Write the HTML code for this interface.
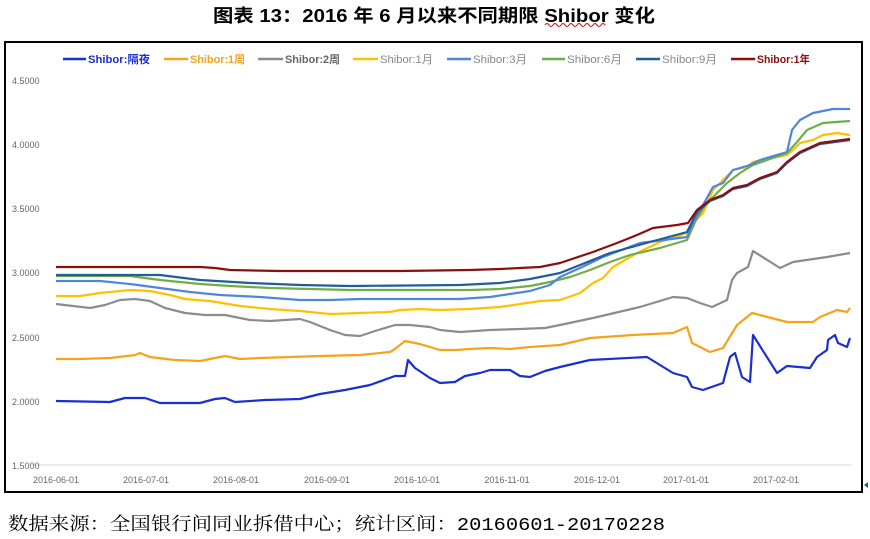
<!DOCTYPE html>
<html><head><meta charset="utf-8"><style>
body{margin:0;width:870px;height:539px;background:#fff;overflow:hidden}
</style></head><body>
<svg width="870" height="539" style="position:absolute;left:0;top:0" font-family="Liberation Sans,Noto Sans CJK SC,sans-serif">
<text x="213" y="22" font-size="18" font-weight="bold" textLength="442" lengthAdjust="spacingAndGlyphs">图表 13：2016 年 6 月以来不同期限 Shibor 变化</text>
<path d="M545,25 q2,-3 4,0 t4,0 t4,0 t4,0 t4,0 t4,0 t4,0 t4,0 t4,0 t4,0 t4,0 t4,0 t4,0 t4,0 t4,0" fill="none" stroke="#d00" stroke-width="1"/>
<rect x="5" y="42" width="857" height="450" fill="none" stroke="#000" stroke-width="2"/>
<line x1="30" y1="465" x2="852" y2="465" stroke="#d9d9d9"/>
<g font-size="9" fill="#666">
<text x="12" y="84">4.5000</text><text x="12" y="148">4.0000</text><text x="12" y="212">3.5000</text><text x="12" y="276">3.0000</text><text x="12" y="341">2.5000</text><text x="12" y="405">2.0000</text><text x="12" y="469">1.5000</text>
</g>
<g font-size="9" fill="#666" text-anchor="middle">
<text x="56" y="483">2016-06-01</text><text x="146" y="483">2016-07-01</text><text x="236" y="483">2016-08-01</text><text x="327" y="483">2016-09-01</text><text x="417" y="483">2016-10-01</text><text x="507" y="483">2016-11-01</text><text x="597" y="483">2016-12-01</text><text x="686" y="483">2017-01-01</text><text x="776" y="483">2017-02-01</text>
</g>
<g font-size="11" font-weight="bold">
<line x1="63" y1="59" x2="86" y2="59" stroke="#1a2fd0" stroke-width="2.5"/><text x="88" y="63" fill="#1a2fd0" textLength="62" lengthAdjust="spacingAndGlyphs">Shibor:隔夜</text>
<line x1="164" y1="59" x2="188" y2="59" stroke="#f7a21b" stroke-width="2.5"/><text x="190" y="63" fill="#f7a21b" textLength="55" lengthAdjust="spacingAndGlyphs">Shibor:1周</text>
<line x1="258" y1="59" x2="283" y2="59" stroke="#8c8c8c" stroke-width="2.5"/><text x="285" y="63" fill="#666" textLength="55" lengthAdjust="spacingAndGlyphs">Shibor:2周</text>
<line x1="353" y1="59" x2="378" y2="59" stroke="#ffc000" stroke-width="2.5"/><text x="380" y="63" fill="#888" font-weight="normal" textLength="53" lengthAdjust="spacingAndGlyphs">Shibor:1月</text>
<line x1="447" y1="59" x2="471" y2="59" stroke="#4f86d9" stroke-width="2.5"/><text x="473" y="63" fill="#888" font-weight="normal" textLength="54" lengthAdjust="spacingAndGlyphs">Shibor:3月</text>
<line x1="542" y1="59" x2="565" y2="59" stroke="#70ad47" stroke-width="2.5"/><text x="567" y="63" fill="#888" font-weight="normal" textLength="55" lengthAdjust="spacingAndGlyphs">Shibor:6月</text>
<line x1="636" y1="59" x2="660" y2="59" stroke="#1f5f99" stroke-width="2.5"/><text x="662" y="63" fill="#888" font-weight="normal" textLength="55" lengthAdjust="spacingAndGlyphs">Shibor:9月</text>
<line x1="731" y1="59" x2="755" y2="59" stroke="#8b0f0f" stroke-width="2.5"/><text x="757" y="63" fill="#8b0f0f" textLength="53" lengthAdjust="spacingAndGlyphs">Shibor:1年</text>
</g>
<g fill="none" stroke-width="2.2" stroke-linejoin="round">
<polyline stroke="#f7a21b" points="56,359 80,359 110,358 135,355 140,353 150,357 175,360 200,361 215,358 225,356 240,359 260,358 290,357 320,356 360,355 390,352 395,349 405,341 420,344 430,347 440,350 455,350 470,349 490,348 510,349 530,347 560,345 590,338 633,335 673,333 687,327 692,343 710,352 723,348 737,325 752,313 787,322 813,322 820,317 837,310 847,312 850,308"/>
<polyline stroke="#8c8c8c" points="56,304 90,308 105,305 120,300 135,299 150,301 165,308 185,313 205,315 225,315 250,320 270,321 300,319 310,322 330,330 345,335 360,336 375,331 395,325 410,325 430,327 440,330 460,332 490,330 520,329 545,328 560,325 593,318 640,307 673,297 687,298 700,303 712,307 727,300 732,280 737,273 748,267 753,251 780,268 793,262 827,257 850,253"/>
<polyline stroke="#ffc000" points="56,296 80,296 100,293 130,290 150,291 170,295 185,299 210,301 240,306 270,309 300,311 330,314 360,313 390,312 400,310 420,309 440,310 470,309 500,307 520,304 540,301 560,300 580,293 593,283 603,278 613,267 637,253 660,242 687,233 692,224 703,213 713,190 733,170 747,167 753,162 787,155 793,150 800,143 813,140 823,135 837,133 850,135"/>
<polyline stroke="#70ad47" points="56,276 130,276 160,280 200,284 230,286 270,288 310,289 350,290 470,290 500,289 530,286 550,282 570,277 590,270 610,262 630,255 660,248 687,240 695,222 705,205 713,197 727,183 740,173 753,165 787,153 797,142 807,130 823,123 850,121"/>
<polyline stroke="#4f86d9" points="56,281 100,281 130,284 160,288 190,292 220,295 260,297 300,300 330,300 360,299 460,299 490,297 510,294 530,291 550,285 560,277 580,268 603,257 640,243 687,237 693,223 713,187 723,183 733,170 750,165 760,160 787,152 792,130 800,120 813,113 833,109 850,109"/>
<polyline stroke="#1f5f99" points="56,275 160,275 200,280 250,283 300,285 350,286 460,285 500,283 530,279 560,273 585,263 610,253 650,242 687,232 697,212 710,201 723,196 733,189 747,186 760,179 777,173 787,163 800,153 820,144 850,140"/>
<polyline stroke="#8b0f0f" points="56,267 200,267 215,268 230,270 280,271 400,271 470,270 500,269 520,268 540,267 560,263 593,252 617,243 637,235 653,228 677,225 688,223 697,210 710,200 723,195 733,188 747,185 760,178 777,172 787,162 800,152 820,143 850,139"/>
<polyline stroke="#1a2fd0" points="56,401 110,402 125,398 145,398 160,403 200,403 215,399 225,398 235,402 265,400 300,399 320,394 345,390 370,385 395,376 405,376 408,360 415,368 430,378 440,383 455,382 465,376 480,373 490,370 510,370 520,376 530,377 545,371 560,367 590,360 647,357 673,373 687,377 692,387 703,390 723,383 730,357 735,353 742,377 750,382 753,335 777,373 787,366 810,368 817,357 827,350 828,340 835,335 838,343 847,347 850,338"/>
</g>
<path d="M868,482 l-4,3 4,3z" fill="#1f5f99"/>
<text x="8" y="530" font-size="18" font-family="Liberation Mono,Noto Serif CJK SC,serif" textLength="657" lengthAdjust="spacingAndGlyphs">数据来源：全国银行间同业拆借中心；统计区间：20160601-20170228</text>
</svg>
</body></html>
